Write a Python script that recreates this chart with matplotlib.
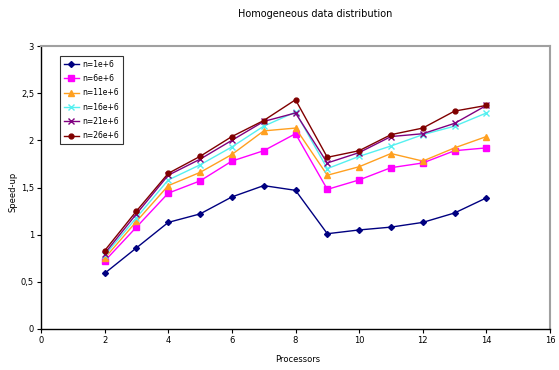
import matplotlib
matplotlib.use('Agg')
import matplotlib.pyplot as plt

# processors
procs = [2, 3, 4, 5, 6, 7, 8, 9, 10, 11, 12, 13, 14]

# speed-up per problem size
n1e6 = [0.59, 0.86, 1.13, 1.22, 1.40, 1.52, 1.47, 1.01, 1.05, 1.08, 1.13, 1.23, 1.39]
n6e6 = [0.72, 1.08, 1.44, 1.57, 1.78, 1.89, 2.07, 1.48, 1.58, 1.71, 1.76, 1.89, 1.92]
n11e6 = [0.75, 1.14, 1.52, 1.66, 1.85, 2.10, 2.13, 1.63, 1.72, 1.86, 1.78, 1.92, 2.04]
n16e6 = [0.78, 1.18, 1.58, 1.74, 1.93, 2.15, 2.30, 1.70, 1.83, 1.94, 2.06, 2.15, 2.29]
n21e6 = [0.80, 1.22, 1.63, 1.80, 2.00, 2.20, 2.29, 1.76, 1.87, 2.04, 2.07, 2.18, 2.37]
n26e6 = [0.83, 1.25, 1.65, 1.83, 2.04, 2.21, 2.43, 1.82, 1.89, 2.06, 2.13, 2.31, 2.37]

labels = ['n=1e+6', 'n=6e+6', 'n=11e+6', 'n=16e+6', 'n=21e+6', 'n=26e+6']
series = [n1e6, n6e6, n11e6, n16e6, n21e6, n26e6]
colors = ['#000080', '#FF00FF', '#FFA020', '#55F0F0', '#800080', '#800000']
markers = ['D', 's', '^', 'x', 'x', 'o']
msizes = [3, 4, 4, 4, 4, 3.5]

plt.rcParams['font.family'] = ['DejaVu Sans']

fig = plt.figure(figsize=(5.59, 3.70), dpi=100)
ax = fig.add_axes([41 / 559, 1 - 329 / 370, 509 / 559, 283 / 370])

for y, lab, c, m, ms in zip(series, labels, colors, markers, msizes):
    ax.plot(procs, y, color=c, marker=m, markersize=ms, linewidth=1,
            markeredgewidth=1, label=lab)

ax.set_xlim(0, 16)
ax.set_ylim(0, 3)
ax.set_xticks(range(0, 17, 2))
ax.set_yticks([0, 0.5, 1, 1.5, 2, 2.5, 3])
ax.set_yticklabels(['0', '0,5', '1', '1,5', '2', '2,5', '3'])
ax.tick_params(labelsize=6, length=3, width=0.8, direction='out', pad=2)

ax.spines['top'].set_color('#a0a0a0')
ax.spines['right'].set_color('#a0a0a0')
ax.spines['top'].set_linewidth(1.5)
ax.spines['right'].set_linewidth(1.5)
ax.spines['left'].set_linewidth(1)
ax.spines['bottom'].set_linewidth(1)

ax.set_xlabel('Processors', fontsize=6)
ax.set_ylabel('Speed-up', fontsize=6)
ax.xaxis.set_label_coords((298 - 41) / 509, -(355 - 329) / 283)
ax.yaxis.set_label_coords(-(41 - 18) / 509, (329 - 192) / 283)
fig.text(315 / 559, 1 - 14 / 370, 'Homogeneous data distribution',
         fontsize=7, ha='center', va='center')

leg = ax.legend(loc='upper left', bbox_to_anchor=(15 / 509, 1 - 6 / 283),
                fontsize=5.5, frameon=True, fancybox=False, borderpad=0.5,
                labelspacing=0.7, handlelength=2.0, handletextpad=0.5,
                edgecolor='black')
leg.get_frame().set_linewidth(0.8)

fig.savefig('out.png', dpi=100)
